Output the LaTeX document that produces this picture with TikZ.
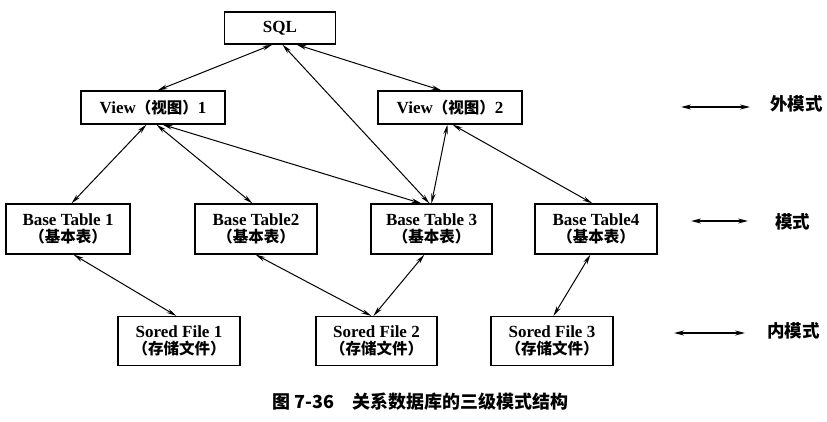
\documentclass[tikz,border=0pt]{standalone}
\usepackage{fontspec}
\setmainfont{Liberation Serif}
\newfontfamily\cjkfont{Noto Sans CJK SC}
\newcommand{\zh}[1]{{\cjkfont\bfseries\fontsize{15.5}{18}\selectfont #1}}
\usetikzlibrary{arrows.meta}
\tikzset{
  box/.style={draw, line width=1.1pt, inner sep=0pt, align=center, font=\fontsize{17}{18}\selectfont\bfseries},
  arr/.style={line width=1pt, {Stealth[length=10pt,width=4.5pt]}-{Stealth[length=10pt,width=4.5pt]}},
  leg/.style={line width=1.4pt, {Stealth[length=10pt,width=5pt]}-{Stealth[length=10pt,width=5pt]}},
  lab/.style={font=\fontsize{17.5}{19}\selectfont\cjkfont\bfseries, anchor=west, inner sep=0pt},
}
\begin{document}
\begin{tikzpicture}[x=1pt,y=-1pt]
\useasboundingbox (0,0) rectangle (827,422);
% level 0
\node[box, minimum width=111pt, minimum height=32pt] (sql) at (280,28) {SQL};
% external
\node[box, minimum width=144pt, minimum height=33pt] (v1) at (153,107.5) {View\zh{（视图）}1};
\node[box, minimum width=144pt, minimum height=33pt] (v2) at (450,107.5) {View\zh{（视图）}2};
% conceptual
\node[box, minimum width=124pt, minimum height=50pt] (bt1) at (68,229) {Base Table 1\\[-1pt]\zh{（基本表）}};
\node[box, minimum width=122pt, minimum height=50pt] (bt2) at (256,229) {Base Table2\\[-1pt]\zh{（基本表）}};
\node[box, minimum width=121pt, minimum height=50pt] (bt3) at (431.5,229) {Base Table 3\\[-1pt]\zh{（基本表）}};
\node[box, minimum width=122pt, minimum height=50pt] (bt4) at (596,229) {Base Table4\\[-1pt]\zh{（基本表）}};
% internal
\node[box, minimum width=122pt, minimum height=49pt] (sf1) at (179,341) {Sored File 1\\[-1pt]\zh{（存储文件）}};
\node[box, minimum width=121pt, minimum height=49pt] (sf2) at (376.5,341) {Sored File 2\\[-1pt]\zh{（存储文件）}};
\node[box, minimum width=122pt, minimum height=49pt] (sf3) at (552,341) {Sored File 3\\[-1pt]\zh{（存储文件）}};
% connectors
\draw[arr] ([xshift=48.5pt]sql.south west) -- ([xshift=77pt]v1.north west);
\draw[arr] ([xshift=58.5pt]sql.south west) -- ([xshift=59pt]bt3.north west);
\draw[arr] ([xshift=72.5pt]sql.south west) -- ([xshift=64pt]v2.north west);
\draw[arr] ([xshift=66pt]v1.south west) -- ([xshift=66pt]bt1.north west);
\draw[arr] ([xshift=76pt]v1.south west) -- ([xshift=58pt]bt2.north west);
\draw[arr] ([xshift=82pt]v1.south west) -- ([xshift=51pt]bt3.north west);
\draw[arr] ([xshift=70pt]v2.south west) -- ([xshift=61pt]bt3.north west);
\draw[arr] ([xshift=75pt]v2.south west) -- ([xshift=58pt]bt4.north west);
\draw[arr] ([xshift=68pt]bt1.south west) -- ([xshift=59pt]sf1.north west);
\draw[arr] ([xshift=61pt]bt2.south west) -- ([xshift=56pt]sf2.north west);
\draw[arr] ([xshift=54pt]bt3.south west) -- ([xshift=58pt]sf2.north west);
\draw[arr] ([xshift=56pt]bt4.south west) -- ([xshift=63pt]sf3.north west);
% legend
\coordinate (l1a) at (681,107); \coordinate (l1b) at (750,107);
\coordinate (l2a) at (691,221); \coordinate (l2b) at (748,221);
\coordinate (l3a) at (674,333); \coordinate (l3b) at (745,333);
\draw[leg] (l1a) -- (l1b);
\draw[leg] (l2a) -- (l2b);
\draw[leg] (l3a) -- (l3b);
\node[lab] (t1) at (770,104) {外模式};
\node[lab] (t2) at (775,222) {模式};
\node[lab] (t3) at (767,331) {内模式};
% caption
\node[font=\fontsize{18}{20}\selectfont\cjkfont\bfseries, anchor=west, inner sep=0pt] (cap) at (272,402) {图 7-36\hspace{1em}关系数据库的三级模式结构};
\end{tikzpicture}
\end{document}
